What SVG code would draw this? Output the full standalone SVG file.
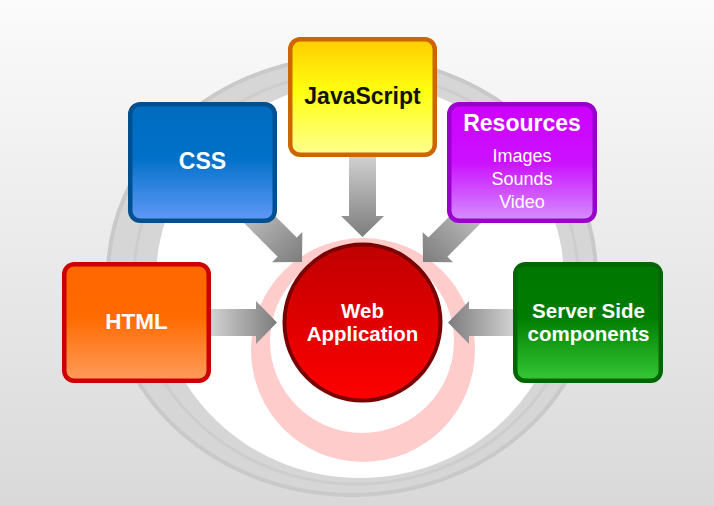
<svg xmlns="http://www.w3.org/2000/svg" width="714" height="506" viewBox="0 0 714 506">
<defs>
<linearGradient id="bg" x1="0" y1="0" x2="0" y2="1"><stop offset="0" stop-color="#fbfbfb"/><stop offset="1" stop-color="#d9d9d9"/></linearGradient>
<linearGradient id="arr" x1="0" y1="0" x2="1" y2="0"><stop offset="0" stop-color="#d2d2d2"/><stop offset="1" stop-color="#7c7c7c"/></linearGradient>
<linearGradient id="gJs" x1="0" y1="0" x2="0" y2="1"><stop offset="0" stop-color="#ffcc00"/><stop offset="0.45" stop-color="#ffff10"/><stop offset="1" stop-color="#ffff90"/></linearGradient>
<linearGradient id="gCss" x1="0" y1="0" x2="0" y2="1"><stop offset="0" stop-color="#006cbf"/><stop offset="0.45" stop-color="#0070c8"/><stop offset="1" stop-color="#6299f8"/></linearGradient>
<linearGradient id="gRes" x1="0" y1="0" x2="0" y2="1"><stop offset="0" stop-color="#cc00ff"/><stop offset="0.5" stop-color="#cc11ff"/><stop offset="1" stop-color="#d590ff"/></linearGradient>
<linearGradient id="gHtml" x1="0" y1="0" x2="0" y2="1"><stop offset="0" stop-color="#ff6600"/><stop offset="0.45" stop-color="#ff6a00"/><stop offset="1" stop-color="#ff9c5c"/></linearGradient>
<linearGradient id="gSrv" x1="0" y1="0" x2="0" y2="1"><stop offset="0" stop-color="#007700"/><stop offset="0.45" stop-color="#007c00"/><stop offset="1" stop-color="#36c836"/></linearGradient>
<linearGradient id="gWeb" x1="0" y1="0" x2="0" y2="1"><stop offset="0" stop-color="#c00000"/><stop offset="1" stop-color="#ff0000"/></linearGradient>
</defs>
<style>
.box{stroke-width:4.5}
.t{font-family:"Liberation Sans",Arial,sans-serif;font-weight:bold;fill:#fff;text-anchor:middle}
.s{font-family:"Liberation Sans",Arial,sans-serif;fill:#fff;text-anchor:middle;font-size:18px}
.a{fill:url(#arr)}
</style>
<rect width="714" height="506" fill="url(#bg)"/>
<g id="rings">
<ellipse cx="352" cy="276" rx="244" ry="219" fill="#d6d6d6" stroke="#c9c9c9" stroke-width="4"/>
<ellipse cx="356" cy="278" rx="222" ry="206" fill="none" stroke="#cdcdcd" stroke-width="3"/>
<ellipse cx="360" cy="280" rx="204" ry="198" fill="#ffffff"/>
<circle cx="363" cy="350" r="112" fill="#ffcccc"/>
<circle cx="362" cy="341" r="92" fill="#ffffff"/>
</g>
<g id="connectors">
<path class="a" d="M -82 -13.5 H -21 V -21.5 L 0 0 L -21 21.5 V 13.5 H -82 Z" transform="translate(362.5,237) rotate(90)"/>
<path class="a" d="M -66 -13.5 H -21 V -21.5 L 0 0 L -21 21.5 V 13.5 H -66 Z" transform="translate(277,322.5)"/>
<path class="a" d="M -66 -13.5 H -21 V -21.5 L 0 0 L -21 21.5 V 13.5 H -66 Z" transform="translate(448,322.5) rotate(180)"/>
<path class="a" d="M -95 -13.5 H -21 V -21.5 L 0 0 L -21 21.5 V 13.5 H -95 Z" transform="translate(302,262) rotate(45)"/>
<path class="a" d="M -95 -13.5 H -21 V -21.5 L 0 0 L -21 21.5 V 13.5 H -95 Z" transform="translate(423,262) rotate(135)"/>
</g>
<g id="web">
<circle cx="362.5" cy="322.5" r="78" fill="url(#gWeb)" stroke="#7a0000" stroke-width="4"/>
<text class="t" x="362.5" y="318" font-size="20.5">Web</text>
<text class="t" x="362.5" y="341" font-size="20.5">Application</text>
</g>
<g id="javascript">
<rect class="box" x="290.25" y="39.25" width="144.5" height="115.5" rx="10" fill="url(#gJs)" stroke="#cc6600"/>
<text class="t" x="362.5" y="103.5" font-size="23" style="fill:#111">JavaScript</text>
</g>
<g id="css">
<rect class="box" x="130.25" y="104.25" width="144.5" height="116.5" rx="10" fill="url(#gCss)" stroke="#00508f"/>
<text class="t" x="202.5" y="169" font-size="23">CSS</text>
</g>
<g id="resources">
<rect class="box" x="449.25" y="104.25" width="145.5" height="116.5" rx="10" fill="url(#gRes)" stroke="#9900cc"/>
<text class="t" x="522" y="131" font-size="23">Resources</text>
<text class="s" x="522" y="162">Images</text>
<text class="s" x="522" y="185">Sounds</text>
<text class="s" x="522" y="208">Video</text>
</g>
<g id="html">
<rect class="box" x="64.25" y="264.25" width="144.5" height="116.5" rx="10" fill="url(#gHtml)" stroke="#cc0000"/>
<text class="t" x="136.5" y="329" font-size="22.5">HTML</text>
</g>
<g id="server">
<rect class="box" x="515.25" y="264.25" width="145.5" height="116.5" rx="10" fill="url(#gSrv)" stroke="#006600"/>
<text class="t" x="588.5" y="318" font-size="20.5">Server Side</text>
<text class="t" x="588.5" y="341" font-size="20.5">components</text>
</g>
</svg>
